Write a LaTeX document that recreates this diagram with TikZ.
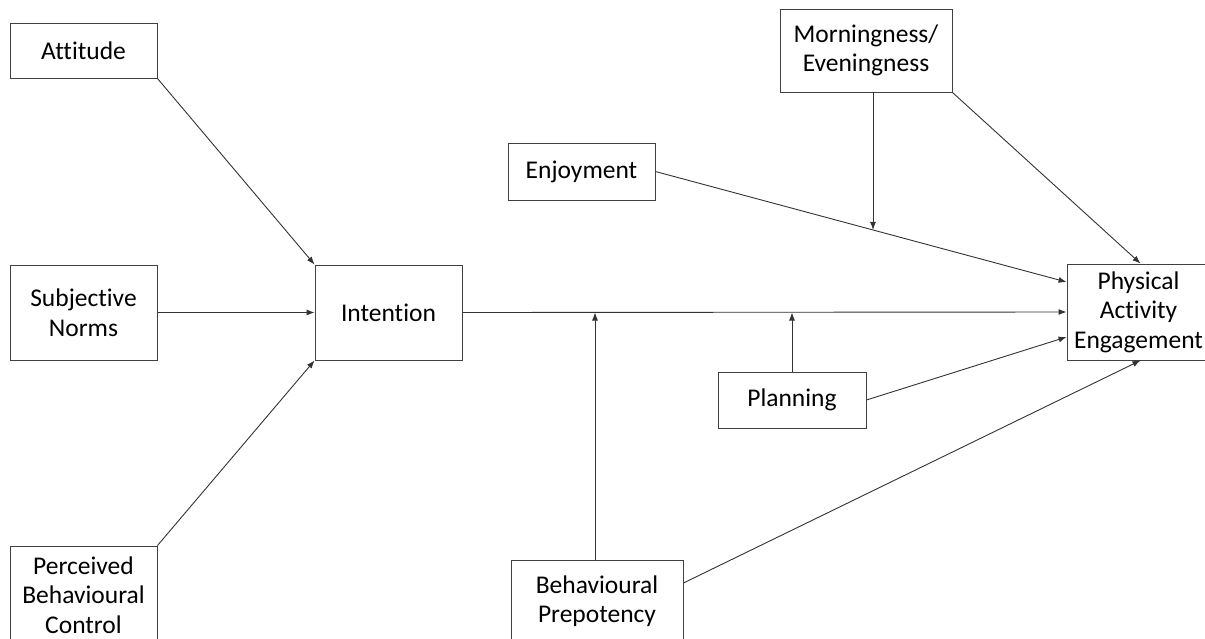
\documentclass[tikz,border=0pt]{standalone}
\usepackage{fontspec}
\setmainfont{Carlito}[Ligatures={NoCommon}]
\usetikzlibrary{arrows.meta,calc}
\begin{document}
\begin{tikzpicture}[x=1pt,y=-1pt,
 box/.style={draw=black!75, line width=0.9pt, fill=white, align=center, inner sep=0pt, font=\fontsize{25.5}{29.5}\selectfont},
 arr/.style={draw=black!80, line width=0.9pt, -{Latex[length=8pt,width=6pt]}}]
\useasboundingbox (0,0) rectangle (1205,638);
\clip (0,0) rectangle (1205,638);
\node[box, minimum width=147pt, minimum height=55pt] (att) at (83.5,50.5) {Attitude};
\node[box, minimum width=147pt, minimum height=95pt] (sn) at (83.5,312.5) {Subjective\\Norms};
\node[box, minimum width=147pt, minimum height=98pt] (pbc) at (83.5,595) {Perceived\\Behavioural\\Control};
\node[box, minimum width=147pt, minimum height=95pt] (int) at (388.5,312.5) {Intention};
\node[box, minimum width=147pt, minimum height=57pt] (enj) at (581.5,171.5) {Enjoyment};
\node[box, minimum width=172pt, minimum height=83pt] (mor) at (866,50.5) {Morningness/\\Eveningness};
\node[box, minimum width=148pt, minimum height=56pt] (plan) at (792,400) {Planning};
\node[box, minimum width=172pt, minimum height=82pt] (bp) at (597,601) {Behavioural\\Prepotency};
\node[box, minimum width=143pt, minimum height=96pt] (pae) at (1138.5,312) {Physical\\Activity\\Engagement};
\coordinate (paeE) at ([yshift=30pt]pae.west);
\coordinate (paeP) at ([yshift=-25pt]pae.west);
\coordinate (mid) at ($(enj.east)!0.529!(paeE)$);
\draw[arr] (att.south east) -- (int.north west);
\draw[arr] (sn.east) -- (int.west);
\draw[arr] (pbc.north east) -- (int.south west);
\draw[arr] (int.east) -- (pae.west);
\draw[arr] ([xshift=-2pt]bp.north) -- ([xshift=-2pt]bp.north |- int.east);
\draw[arr] (plan.north) -- (plan.north |- int.east);
\draw[arr] (enj.east) -- (paeE);
\draw[arr] (plan.east) -- (paeP);
\draw[arr] ([yshift=18pt]bp.east) -- ([xshift=2pt]pae.south);
\draw[arr] ([xshift=7pt]mor.south) -- ([xshift=7pt]mor.south |- mid);
\draw[arr] (mor.south east) -- ([xshift=2pt]pae.north);
\end{tikzpicture}
\end{document}
